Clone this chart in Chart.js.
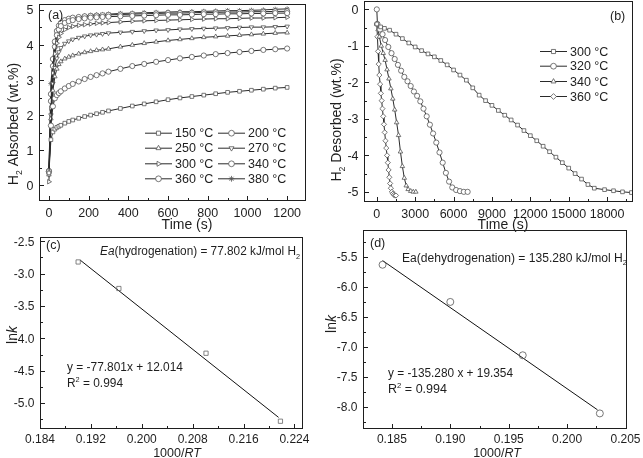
<!DOCTYPE html>
<html>
<head>
<meta charset="utf-8">
<script src="https://cdn.jsdelivr.net/npm/chart.js@4.4.1/dist/chart.umd.min.js"></script>
<style>
  body { margin: 0; background: #fff; }
  #fig { position: relative; width: 643px; height: 458px; overflow: hidden; background: #fff; }
  #fig canvas { position: absolute; }
</style>
</head>
<body>
<div id="fig">
  <canvas id="pa" width="320" height="232" style="left:0;top:0"></canvas>
  <canvas id="pb" width="323" height="232" style="left:320px;top:0"></canvas>
  <canvas id="pc" width="320" height="233" style="left:0;top:225px"></canvas>
  <canvas id="pd" width="323" height="233" style="left:320px;top:225px"></canvas>
</div>
<script>
// ---- (a) hydrogen absorption, wt.% vs time (s)
const absTime = [0,10,20,30,40,50,60,80,100,120,150,180,210,240,270,300,360,420,480,540,600,660,720,780,840,900,960,1020,1080,1140,1200];
const abs150 = [0.35,1.30,1.52,1.60,1.65,1.68,1.71,1.77,1.82,1.86,1.91,1.96,2.00,2.04,2.08,2.12,2.19,2.26,2.32,2.38,2.44,2.49,2.53,2.57,2.61,2.65,2.68,2.71,2.74,2.77,2.79];
const abs200 = [0.40,1.70,2.25,2.48,2.57,2.63,2.68,2.76,2.83,2.89,2.96,3.03,3.09,3.14,3.19,3.24,3.32,3.40,3.46,3.52,3.57,3.62,3.66,3.70,3.74,3.77,3.80,3.83,3.86,3.88,3.90];
const abs250 = [0.30,1.90,2.70,3.10,3.32,3.45,3.53,3.61,3.66,3.70,3.75,3.79,3.82,3.85,3.87,3.89,3.95,4.00,4.05,4.09,4.13,4.16,4.19,4.22,4.24,4.26,4.28,4.30,4.32,4.34,4.35];
const abs270 = [0.30,2.00,2.90,3.35,3.62,3.80,3.92,4.04,4.11,4.16,4.21,4.25,4.28,4.30,4.32,4.34,4.36,4.38,4.40,4.42,4.43,4.45,4.46,4.47,4.48,4.49,4.50,4.51,4.51,4.52,4.53];
const abs300 = [0.10,2.20,3.20,3.75,4.05,4.22,4.33,4.44,4.50,4.53,4.56,4.58,4.60,4.62,4.63,4.64,4.66,4.68,4.69,4.70,4.71,4.72,4.73,4.74,4.75,4.75,4.76,4.77,4.77,4.78,4.79];
const abs340 = [0.40,2.40,3.40,3.95,4.28,4.44,4.54,4.63,4.68,4.71,4.74,4.76,4.78,4.79,4.80,4.81,4.82,4.83,4.84,4.85,4.86,4.86,4.87,4.88,4.88,4.89,4.89,4.90,4.90,4.91,4.91];
const abs360 = [0.40,2.60,3.60,4.10,4.40,4.55,4.63,4.71,4.75,4.78,4.80,4.82,4.83,4.84,4.85,4.86,4.87,4.88,4.89,4.90,4.91,4.91,4.92,4.93,4.93,4.94,4.94,4.95,4.95,4.96,4.96];
const abs380 = [0.40,2.90,3.60,4.05,4.32,4.47,4.56,4.66,4.72,4.76,4.80,4.83,4.85,4.86,4.87,4.88,4.90,4.91,4.92,4.93,4.94,4.95,4.95,4.96,4.97,4.98,4.98,4.99,5.00,5.02,5.03];
const absNames = ['150 °C','200 °C','250 °C','270 °C','300 °C','340 °C','360 °C','380 °C'];
const aXTicks = ['0','200','400','600','800','1000','1200'];
const aYTicks = ['0','1','2','3','4','5'];

// ---- (b) hydrogen desorption, wt.% vs time (s)
const des300T = [0,300,600,1000,1500,2000,2500,3000,3500,4000,4500,5000,5500,6000,6500,7000,7500,8000,8500,9000,9500,10000,10500,11000,11500,12000,12500,13000,13500,14000,14500,15000,15500,16000,16500,17000,17800,18500,19200,19900];
const des300 = [-0.40,-0.48,-0.52,-0.57,-0.68,-0.80,-0.92,-1.03,-1.13,-1.22,-1.30,-1.40,-1.52,-1.66,-1.80,-1.94,-2.15,-2.35,-2.50,-2.63,-2.77,-2.90,-3.03,-3.17,-3.32,-3.46,-3.60,-3.75,-3.90,-4.05,-4.20,-4.35,-4.50,-4.65,-4.80,-4.90,-4.94,-4.97,-5.00,-5.02];
const des320T = [0,50,250,450,650,900,1150,1400,1650,1900,2150,2400,2650,2900,3150,3400,3650,3900,4150,4400,4650,4900,5150,5400,5650,5900,6200,6500,6800,7100];
const des320 = [0,-0.40,-0.55,-0.68,-0.84,-1.03,-1.20,-1.36,-1.52,-1.68,-1.85,-1.97,-2.10,-2.25,-2.37,-2.52,-2.72,-2.93,-3.16,-3.40,-3.65,-3.92,-4.20,-4.48,-4.72,-4.88,-4.95,-4.98,-5.00,-5.00];
const des340T = [0,100,200,350,500,650,800,950,1100,1250,1400,1550,1700,1850,2000,2150,2300,2450,2650,2850,3050];
const des340 = [-0.40,-0.55,-0.75,-1.00,-1.20,-1.39,-1.65,-1.90,-2.17,-2.45,-2.75,-3.10,-3.45,-3.90,-4.30,-4.62,-4.83,-4.93,-4.98,-5.00,-5.00];
const des360T = [0,50,100,150,200,260,320,380,440,500,560,620,680,740,800,860,920,980,1040,1100,1180,1260,1340,1420,1500];
const des360 = [-0.40,-0.75,-1.15,-1.50,-1.80,-2.05,-2.30,-2.50,-2.72,-2.93,-3.15,-3.37,-3.60,-3.80,-4.00,-4.20,-4.40,-4.60,-4.77,-4.90,-5.00,-5.05,-5.08,-5.10,-5.10];
const desNames = ['300 °C','320 °C','340 °C','360 °C'];
const bXTicks = ['0','3000','6000','9000','12000','15000','18000'];
const bYTicks = ['0','-1','-2','-3','-4','-5'];

// ---- (c) Arrhenius plot, hydrogenation
const hydX = [0.1900,0.1964,0.2101,0.2218];
const hydLnk = [-2.82,-3.23,-4.23,-5.28];
const hydFitX = [0.1903,0.2215];
const hydFitY = [-2.79,-5.22];
const cXTicks = ['0.184','0.192','0.200','0.208','0.216','0.224'];
const cYTicks = ['-2.5','-3.0','-3.5','-4.0','-4.5','-5.0'];

// ---- (d) Arrhenius plot, dehydrogenation
const dehX = [0.1842,0.1900,0.1962,0.2028];
const dehLnk = [-5.63,-6.25,-7.14,-8.11];
const dehFitX = [0.1842,0.2026];
const dehFitY = [-5.56,-8.05];
const dXTicks = ['0.185','0.190','0.195','0.200','0.205'];
const dYTicks = ['-5.5','-6.0','-6.5','-7.0','-7.5','-8.0'];

const FONT = "'Liberation Sans', Arial, sans-serif";
const INK = '#1e1e1e';
const LINE = '#2a2a2a';
const MARK = '#555';

const pts = (xs, ys) => xs.map((x, i) => ({ x, y: ys[i] }));

// major ticks from label list + minor ticks halfway between
function tickList(labels, min, max) {
  const out = labels.map(l => ({ value: parseFloat(l), lbl: l, minor: false }));
  const v = out.map(t => t.value).sort((a, b) => a - b);
  const half = (v[1] - v[0]) / 2;
  [v[0] - half, ...v.map(x => x + half)].forEach(x => {
    if (x >= min - 1e-9 && x <= max + 1e-9) out.push({ value: x, lbl: '', minor: true });
  });
  return out;
}

function txt(ctx, parts, x, y, o) {
  const s = o.size;
  const fontOf = st => (st === 'i' ? 'italic ' : '') + ((st === 'sub' || st === 'sup') ? s * 0.62 : s) + 'px ' + FONT;
  let w = 0;
  parts.forEach(([t, st]) => { ctx.font = fontOf(st); w += ctx.measureText(t).width; });
  ctx.save();
  ctx.translate(x, y);
  if (o.rot) ctx.rotate(o.rot);
  ctx.scale(o.width ? o.width / w : 1, 1);
  let cx = o.align === 'center' ? -w / 2 : o.align === 'right' ? -w : 0;
  ctx.fillStyle = INK;
  ctx.textAlign = 'left';
  ctx.textBaseline = 'alphabetic';
  parts.forEach(([t, st]) => {
    ctx.font = fontOf(st);
    const dy = st === 'sub' ? s * 0.28 : st === 'sup' ? -s * 0.42 : 0;
    ctx.fillText(t, cx, s * 0.36 + dy);
    cx += ctx.measureText(t).width;
  });
  ctx.restore();
}

// frame, inward ticks, tick labels, titles, notes and in-plot legend
function deco(cfg) {
  return {
    id: 'deco',
    afterDraw(chart) {
      const ctx = chart.ctx, a = chart.chartArea;
      const sx = chart.scales.x, sy = chart.scales.y;
      ctx.save();
      ctx.strokeStyle = INK;
      ctx.lineWidth = 1;
      const L = Math.round(a.left) + 0.5, R = Math.round(a.right) - 0.5;
      const T = Math.round(a.top) + 0.5, B = Math.round(a.bottom) - 0.5;
      ctx.strokeRect(L, T, R - L, B - T);
      ctx.beginPath();
      cfg.xTicks.forEach(t => {
        const p = Math.round(sx.getPixelForValue(t.value)) + 0.5;
        ctx.moveTo(p, B); ctx.lineTo(p, B - (t.minor ? 2.5 : 4.5));
      });
      cfg.yTicks.forEach(t => {
        const p = Math.round(sy.getPixelForValue(t.value)) + 0.5;
        ctx.moveTo(L, p); ctx.lineTo(L + (t.minor ? 2.5 : 4.5), p);
      });
      ctx.stroke();
      cfg.xTicks.forEach(t => {
        if (t.lbl) txt(ctx, [[t.lbl]], sx.getPixelForValue(t.value), B + cfg.xLab, { size: cfg.tick, align: 'center' });
      });
      cfg.yTicks.forEach(t => {
        if (t.lbl) txt(ctx, [[t.lbl]], L - 6, sy.getPixelForValue(t.value), { size: cfg.tick, align: 'right' });
      });

      ctx.translate(-cfg.ox, -cfg.oy);
      cfg.texts.forEach(t => txt(ctx, t.p, t.x, t.y, t));
      (cfg.legend || []).forEach(e => {
        const ds = chart.data.datasets[e.i];
        ctx.strokeStyle = ds.borderColor;
        ctx.lineWidth = 1;
        ctx.beginPath(); ctx.moveTo(e.x1, e.y + 0.5); ctx.lineTo(e.x2, e.y + 0.5); ctx.stroke();
        ctx.strokeStyle = ds.pointBorderColor;
        ctx.fillStyle = '#fff';
        ctx.lineWidth = ds.pointBorderWidth;
        Chart.helpers.drawPoint(ctx, { pointStyle: ds.pointStyle, rotation: ds.pointRotation || 0, radius: ds.pointRadius + 0.3, borderWidth: ds.pointBorderWidth }, (e.x1 + e.x2) / 2, e.y + 0.5);
        txt(ctx, [[ds.label]], e.x2 + 3, e.y, { size: 12.5 });
      });
      ctx.restore();
    }
  };
}

function axis(min, max, fixed, horizontal) {
  return {
    type: 'linear', min, max,
    grid: { display: false, drawTicks: false },
    border: { display: false },
    ticks: { display: false },
    afterFit: s => {
      if (horizontal) s.height = fixed; else s.width = fixed;
      s.paddingTop = s.paddingBottom = s.paddingLeft = s.paddingRight = 0;
    }
  };
}

// box: canvas position/size, area: plot frame in page pixels
function panel(id, box, area, x, y, datasets, cfg) {
  cfg.ox = box.l; cfg.oy = box.t;
  cfg.xTicks = tickList(x.labels, x.min, x.max);
  cfg.yTicks = tickList(y.labels, y.min, y.max);
  return new Chart(document.getElementById(id), {
    type: 'line',
    data: { datasets },
    plugins: [deco(cfg)],
    options: {
      responsive: false, animation: false, devicePixelRatio: 1,
      layout: { autoPadding: false, padding: { left: 0, bottom: 0, top: area.t - box.t, right: box.l + box.w - area.r } },
      plugins: { legend: { display: false }, tooltip: { enabled: false } },
      elements: { line: { tension: 0 } },
      scales: {
        x: axis(x.min, x.max, box.t + box.h - area.b, true),
        y: axis(y.min, y.max, area.l - box.l, false)
      }
    }
  });
}

const series = (label, data, style, rot, r, extra) => Object.assign({
  label, data, borderColor: LINE, borderWidth: 1,
  pointStyle: style, pointRotation: rot, pointRadius: r,
  pointBorderColor: MARK, pointBackgroundColor: '#fff', pointBorderWidth: 0.8
}, extra || {});

// (a)
const absShapes = [['rect', 0], ['circle', 0], ['triangle', 0], ['triangle', 180], ['triangle', 90], ['circle', 0], ['circle', 0], ['star', 0]];
const absSeries = [abs150, abs200, abs250, abs270, abs300, abs340, abs360, abs380];
const aRows = [132.7, 147.7, 163.3, 178.3];
panel('pa', { l: 0, t: 0, w: 320, h: 232 }, { l: 39, r: 306, t: 4, b: 201 },
  { labels: aXTicks, min: -50, max: 1295 },
  { labels: aYTicks, min: -0.45, max: 5.17 },
  absSeries.map((s, i) => series(absNames[i], pts(absTime, s), absShapes[i][0], absShapes[i][1], 2.6)),
  {
    tick: 12.5, xLab: 12,
    texts: [
      { p: [['Time (s)']], x: 187, y: 224, size: 14, align: 'center' },
      { p: [['H'], ['2', 'sub'], [' Absorbed (wt.%)']], x: 13, y: 124, size: 14, align: 'center', rot: -Math.PI / 2 },
      { p: [['(a)']], x: 48, y: 14, size: 12.5 }
    ],
    legend: absNames.map((n, i) => ({ i, y: aRows[i >> 1], x1: i % 2 ? 218 : 145, x2: i % 2 ? 245 : 172 }))
  });

// (b)
const desSets = [[des300T, des300, 'rect'], [des320T, des320, 'circle'], [des340T, des340, 'triangle'], [des360T, des360, 'rectRot']];
const bRows = [51, 65.7, 81, 96];
panel('pb', { l: 320, t: 0, w: 323, h: 232 }, { l: 364, r: 632.7, t: 1, b: 201.7 },
  { labels: bXTicks, min: -1000, max: 20000 },
  { labels: bYTicks, min: -5.27, max: 0.23 },
  desSets.map((d, i) => series(desNames[i], pts(d[0], d[1]), d[2], 0, 2.6)),
  {
    tick: 12.5, xLab: 12,
    texts: [
      { p: [['Time (s)']], x: 503, y: 224, size: 14, align: 'center' },
      { p: [['H'], ['2', 'sub'], [' Desorbed (wt.%)']], x: 336, y: 120, size: 14, align: 'center', rot: -Math.PI / 2 },
      { p: [['(b)']], x: 610, y: 15, size: 12.5 }
    ],
    legend: desNames.map((n, i) => ({ i, y: bRows[i], x1: 540, x2: 567 }))
  });

// (c)
panel('pc', { l: 0, t: 225, w: 320, h: 233 }, { l: 40, r: 302.7, t: 236.7, b: 429 },
  { labels: cXTicks, min: 0.184, max: 0.2253 },
  { labels: cYTicks, min: -5.40, max: -2.43 },
  [
    series('ln k', pts(hydX, hydLnk), 'rect', 0, 3, { showLine: false, pointBackgroundColor: 'rgba(0,0,0,0)', pointBorderColor: '#666' }),
    series('fit', pts(hydFitX, hydFitY), 'circle', 0, 0, { borderColor: '#111' })
  ],
  {
    tick: 12, xLab: 10.5,
    texts: [
      { p: [['1000/'], ['RT', 'i']], x: 177, y: 452, size: 12.5, align: 'center' },
      { p: [['ln'], ['k', 'i']], x: 12, y: 335, size: 14, align: 'center', rot: -Math.PI / 2 },
      { p: [['(c)']], x: 46, y: 244, size: 12.5 },
      { p: [['Ea', 'i'], ['(hydrogenation) = 77.802 kJ/mol H'], ['2', 'sub']], x: 100, y: 251, size: 12, width: 200 },
      { p: [['y = -77.801x + 12.014']], x: 67, y: 366.5, size: 12, width: 116 },
      { p: [['R'], ['2', 'sup'], [' = 0.994']], x: 67, y: 382.5, size: 12, width: 56 }
    ]
  });

// (d)
panel('pd', { l: 320, t: 225, w: 323, h: 233 }, { l: 362.7, r: 626.7, t: 230, b: 429 },
  { labels: dXTicks, min: 0.1825, max: 0.2051 },
  { labels: dYTicks, min: -8.37, max: -5.05 },
  [
    series('ln k', pts(dehX, dehLnk), 'circle', 0, 3.5, { showLine: false, pointBackgroundColor: 'rgba(0,0,0,0)', pointBorderColor: '#555' }),
    series('fit', pts(dehFitX, dehFitY), 'circle', 0, 0, { borderColor: '#111' })
  ],
  {
    tick: 12, xLab: 10.5,
    texts: [
      { p: [['1000/'], ['RT', 'i']], x: 497, y: 452, size: 12.5, align: 'center' },
      { p: [['ln'], ['k', 'i']], x: 331, y: 324, size: 14, align: 'center', rot: -Math.PI / 2 },
      { p: [['(d)']], x: 370, y: 242.5, size: 12.5 },
      { p: [['Ea(dehydrogenation) = 135.280 kJ/mol H'], ['2', 'sub']], x: 402, y: 257.5, size: 12, width: 225 },
      { p: [['y = -135.280 x + 19.354']], x: 388, y: 373, size: 12, width: 125 },
      { p: [['R'], ['2', 'sup'], [' = 0.994']], x: 388, y: 389, size: 12, width: 59 }
    ]
  });
</script>
</body>
</html>
